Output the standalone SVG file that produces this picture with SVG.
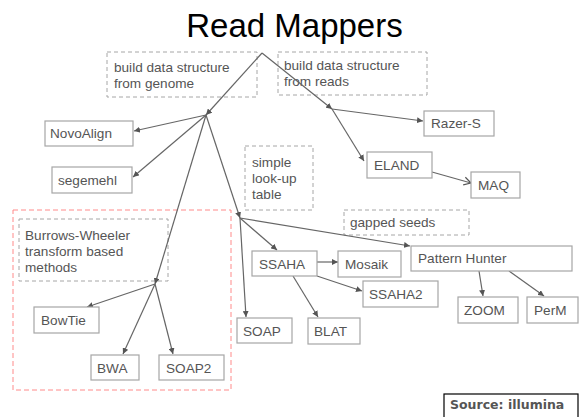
<svg xmlns="http://www.w3.org/2000/svg" width="583" height="417" viewBox="0 0 583 417">
<style>
.t{font-family:"Liberation Sans",Arial,sans-serif;font-size:13.6px;fill:#555}
.box{fill:#fff;stroke:#a6a6a6;stroke-width:1.2}
.dash{fill:none;stroke:#a6a6a6;stroke-width:1;stroke-dasharray:4 3}
.red{fill:none;stroke:#ff8a8a;stroke-width:1;stroke-dasharray:5 3}
.c{fill:none;stroke:#666;stroke-width:1.2;marker-end:url(#a)}
</style>
<defs>
<marker id="a" markerUnits="userSpaceOnUse" markerWidth="7" markerHeight="6" refX="6" refY="3" orient="auto"><path d="M0,0 L6,3 L0,6 z" fill="#555"/></marker>
<marker id="o" markerUnits="userSpaceOnUse" markerWidth="10" markerHeight="10" refX="8" refY="5" orient="auto"><path d="M1,1 L8,5 L1,9" fill="none" stroke="#555" stroke-width="1.2"/></marker>
</defs>
<rect width="583" height="417" fill="#fff"/>
<text x="294.5" y="37" text-anchor="middle" font-family="Liberation Sans, Arial, sans-serif" font-size="33" fill="#000">Read Mappers</text>
<g id="categories">
<rect class="red" x="13" y="210" width="218" height="180"/>
<g id="genome"><rect class="dash" x="107" y="52" width="150" height="45"/><text class="t" x="114" y="72">build data structure</text><text class="t" x="114" y="88">from genome</text></g>
<g id="reads"><rect class="dash" x="278" y="52" width="149" height="43"/><text class="t" x="284" y="70">build data structure</text><text class="t" x="284" y="86">from reads</text></g>
<g id="lookup"><rect class="dash" x="245" y="146" width="68" height="64"/><text class="t" x="252" y="167">simple</text><text class="t" x="252" y="183">look-up</text><text class="t" x="252" y="199">table</text></g>
<g id="bwt"><rect class="dash" x="19" y="219" width="149" height="62"/><text class="t" x="25" y="240">Burrows-Wheeler</text><text class="t" x="25" y="256">transform based</text><text class="t" x="25" y="272">methods</text></g>
<g id="gapped"><rect class="dash" x="344" y="210" width="125" height="25"/><text class="t" x="350" y="227">gapped seeds</text></g>
</g>
<g id="connectors">
<line class="c" x1="262" y1="53" x2="206" y2="115"/>
<line class="c" x1="262" y1="53" x2="332" y2="109"/>
<line class="c" x1="332" y1="109" x2="364" y2="161"/>
<line class="c" x1="332" y1="109" x2="423" y2="121"/>
<line class="c" x1="206" y1="115" x2="134" y2="131"/>
<line class="c" x1="206" y1="115" x2="133" y2="177"/>
<line class="c" x1="206" y1="115" x2="155" y2="284"/>
<line class="c" x1="206" y1="115" x2="240" y2="218"/>
<line class="c" x1="155" y1="284" x2="87" y2="307"/>
<line class="c" x1="155" y1="284" x2="123" y2="354"/>
<line class="c" x1="155" y1="284" x2="173" y2="354"/>
<line class="c" x1="240" y1="218" x2="246" y2="317"/>
<line class="c" x1="240" y1="218" x2="277" y2="250"/>
<line class="c" x1="240" y1="218" x2="410" y2="246"/>
<line class="c" x1="317" y1="262" x2="338" y2="262"/>
<line class="c" x1="293" y1="276" x2="318" y2="317"/>
<line class="c" x1="317" y1="276" x2="362" y2="291"/>
<line x1="432" y1="172" x2="471" y2="183" stroke="#666" stroke-width="1.2" marker-end="url(#o)"/>
<line class="c" x1="479" y1="271" x2="483" y2="296"/>
<line class="c" x1="509" y1="271" x2="544" y2="296"/>
</g>
<g id="NovoAlign"><rect class="box" x="45" y="121" width="88" height="25"/><text class="t" x="50" y="138">NovoAlign</text></g>
<g id="segemehl"><rect class="box" x="52" y="167" width="80" height="26"/><text class="t" x="58" y="185">segemehl</text></g>
<g id="Razer-S"><rect class="box" x="424" y="111" width="70" height="25"/><text class="t" x="431" y="128">Razer-S</text></g>
<g id="ELAND"><rect class="box" x="367" y="152" width="65" height="26"/><text class="t" x="374" y="170">ELAND</text></g>
<g id="MAQ"><rect class="box" x="471" y="172" width="49" height="26"/><text class="t" x="478" y="190">MAQ</text></g>
<g id="BowTie"><rect class="box" x="34" y="307" width="65" height="26"/><text class="t" x="41" y="325">BowTie</text></g>
<g id="BWA"><rect class="box" x="91" y="355" width="48" height="25"/><text class="t" x="97" y="373">BWA</text></g>
<g id="SOAP2"><rect class="box" x="159" y="355" width="65" height="25"/><text class="t" x="166" y="373">SOAP2</text></g>
<g id="SOAP"><rect class="box" x="237" y="318" width="55" height="25"/><text class="t" x="243" y="336">SOAP</text></g>
<g id="SSAHA"><rect class="box" x="252" y="251" width="65" height="25"/><text class="t" x="259" y="269">SSAHA</text></g>
<g id="Mosaik"><rect class="box" x="338" y="251" width="63" height="26"/><text class="t" x="345" y="269">Mosaik</text></g>
<g id="PatternHunter"><rect class="box" x="411" y="246" width="161" height="25"/><text class="t" x="418" y="263">Pattern Hunter</text></g>
<g id="SSAHA2"><rect class="box" x="363" y="281" width="75" height="26"/><text class="t" x="369" y="299">SSAHA2</text></g>
<g id="BLAT"><rect class="box" x="308" y="318" width="52" height="26"/><text class="t" x="314" y="336">BLAT</text></g>
<g id="ZOOM"><rect class="box" x="458" y="297" width="60" height="26"/><text class="t" x="464" y="315">ZOOM</text></g>
<g id="PerM"><rect class="box" x="527" y="297" width="51" height="26"/><text class="t" x="534" y="315">PerM</text></g>
<g id="source"><rect x="444" y="394" width="134" height="30" fill="#fff" stroke="#000" stroke-width="1.2"/><text x="450" y="409" font-family="DejaVu Sans, sans-serif" font-weight="bold" font-size="12.5" fill="#555">Source: illumina</text></g>
</svg>
